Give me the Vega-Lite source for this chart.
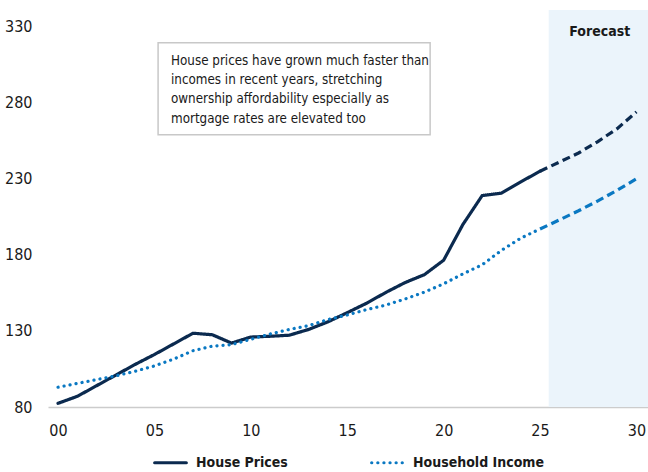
{
  "$schema": "https://vega.github.io/schema/vega-lite/v6.json",
  "width": 600,
  "height": 397,
  "autosize": {"type": "none"},
  "padding": {"left": 48, "top": 10, "right": 0, "bottom": 65},
  "config": {
    "view": {"stroke": null},
    "font": "'DejaVu Sans Condensed', 'Roboto Condensed', Roboto, sans-serif",
    "axis": {"labelFont": "'DejaVu Sans Condensed', 'Roboto Condensed', Roboto, sans-serif", "labelColor": "#1a1a1a"},
    "legend": {"labelFont": "'DejaVu Sans Condensed', 'Roboto Condensed', Roboto, sans-serif"}
  },
  "datasets": {
    "hist": [
      {"year": 0, "value": 82.4, "series": "House Prices"},
      {"year": 1, "value": 87, "series": "House Prices"},
      {"year": 2, "value": 94, "series": "House Prices"},
      {"year": 3, "value": 101, "series": "House Prices"},
      {"year": 4, "value": 108, "series": "House Prices"},
      {"year": 5, "value": 114.5, "series": "House Prices"},
      {"year": 6, "value": 121.5, "series": "House Prices"},
      {"year": 7, "value": 128.5, "series": "House Prices"},
      {"year": 8, "value": 127.5, "series": "House Prices"},
      {"year": 9, "value": 122, "series": "House Prices"},
      {"year": 10, "value": 126, "series": "House Prices"},
      {"year": 11, "value": 126.5, "series": "House Prices"},
      {"year": 12, "value": 127.2, "series": "House Prices"},
      {"year": 13, "value": 131, "series": "House Prices"},
      {"year": 14, "value": 136, "series": "House Prices"},
      {"year": 15, "value": 142, "series": "House Prices"},
      {"year": 16, "value": 148.2, "series": "House Prices"},
      {"year": 17, "value": 155.3, "series": "House Prices"},
      {"year": 18, "value": 161.8, "series": "House Prices"},
      {"year": 19, "value": 167, "series": "House Prices"},
      {"year": 20, "value": 176.5, "series": "House Prices"},
      {"year": 21, "value": 200, "series": "House Prices"},
      {"year": 22, "value": 219, "series": "House Prices"},
      {"year": 23, "value": 220.6, "series": "House Prices"},
      {"year": 24, "value": 228, "series": "House Prices"},
      {"year": 25, "value": 235, "series": "House Prices"},
      {"year": 0, "value": 93, "series": "Household Income"},
      {"year": 1, "value": 95.5, "series": "Household Income"},
      {"year": 2, "value": 98, "series": "Household Income"},
      {"year": 3, "value": 100.5, "series": "Household Income"},
      {"year": 4, "value": 103.5, "series": "Household Income"},
      {"year": 5, "value": 107, "series": "Household Income"},
      {"year": 6, "value": 111.5, "series": "Household Income"},
      {"year": 7, "value": 117, "series": "Household Income"},
      {"year": 8, "value": 120, "series": "Household Income"},
      {"year": 9, "value": 121, "series": "Household Income"},
      {"year": 10, "value": 124.5, "series": "Household Income"},
      {"year": 11, "value": 128, "series": "Household Income"},
      {"year": 12, "value": 131, "series": "Household Income"},
      {"year": 13, "value": 133.5, "series": "Household Income"},
      {"year": 14, "value": 137.5, "series": "Household Income"},
      {"year": 15, "value": 140.5, "series": "Household Income"},
      {"year": 16, "value": 144, "series": "Household Income"},
      {"year": 17, "value": 147, "series": "Household Income"},
      {"year": 18, "value": 151, "series": "Household Income"},
      {"year": 19, "value": 155.5, "series": "Household Income"},
      {"year": 20, "value": 161, "series": "Household Income"},
      {"year": 21, "value": 167.5, "series": "Household Income"},
      {"year": 22, "value": 173.5, "series": "Household Income"},
      {"year": 23, "value": 183, "series": "Household Income"},
      {"year": 24, "value": 191, "series": "Household Income"},
      {"year": 25, "value": 197, "series": "Household Income"}
    ],
    "forecast": [
      {"year": 25, "value": 235, "series": "House Prices"},
      {"year": 26, "value": 241, "series": "House Prices"},
      {"year": 27, "value": 247, "series": "House Prices"},
      {"year": 28, "value": 254.5, "series": "House Prices"},
      {"year": 29, "value": 263, "series": "House Prices"},
      {"year": 30, "value": 274, "series": "House Prices"},
      {"year": 25, "value": 197, "series": "Household Income"},
      {"year": 26, "value": 203, "series": "Household Income"},
      {"year": 27, "value": 209, "series": "Household Income"},
      {"year": 28, "value": 215.5, "series": "Household Income"},
      {"year": 29, "value": 222.5, "series": "Household Income"},
      {"year": 30, "value": 230, "series": "Household Income"}
    ],
    "band": [{"x1": 25.45, "x2": 30.6, "y1": 80, "y2": 341}],
    "box": [{"x1": 5.19, "x2": 19.3, "y1": 259, "y2": 319.5}],
    "note": [{"x": 5.86, "y": 312.2, "label": ["House prices have grown much faster than", "incomes in recent years, stretching", "ownership affordability especially as", "mortgage rates are elevated too"]}],
    "fclabel": [{"x": 28.1, "y": 326.7, "label": "Forecast"}]
  },
  "layer": [
    {
      "data": {"name": "band"},
      "mark": {"type": "rect", "color": "#ebf4fb"},
      "encoding": {
        "x": {"field": "x1", "type": "quantitative", "scale": {"domain": [-0.52, 30.6], "nice": false, "zero": false},
          "axis": {"values": [0, 5, 10, 15, 20, 25, 30], "labelExpr": "datum.value < 10 ? '0' + datum.value : '' + datum.value", "title": null, "grid": false, "ticks": false, "domainColor": "#cccccc", "domainWidth": 1.5, "labelFontSize": 16, "labelPadding": 15, "labelBaseline": "top"}},
        "x2": {"field": "x2"},
        "y": {"field": "y1", "type": "quantitative", "scale": {"domain": [80, 341], "nice": false, "zero": false},
          "axis": {"values": [80, 130, 180, 230, 280, 330], "title": null, "grid": false, "ticks": false, "domain": false, "labelFontSize": 16, "labelPadding": 16}},
        "y2": {"field": "y2"}
      }
    },
    {
      "data": {"name": "box"},
      "mark": {"type": "rect", "fill": "white", "stroke": "#c8c8c8", "strokeWidth": 1.5},
      "encoding": {
        "x": {"field": "x1", "type": "quantitative"},
        "x2": {"field": "x2"},
        "y": {"field": "y1", "type": "quantitative"},
        "y2": {"field": "y2"}
      }
    },
    {
      "data": {"name": "note"},
      "mark": {"type": "text", "align": "left", "baseline": "top", "fontSize": 13.3, "lineHeight": 19.3, "color": "#1a1a1a"},
      "encoding": {
        "x": {"field": "x", "type": "quantitative"},
        "y": {"field": "y", "type": "quantitative"},
        "text": {"field": "label"}
      }
    },
    {
      "data": {"name": "fclabel"},
      "mark": {"type": "text", "align": "center", "baseline": "middle", "fontSize": 14, "fontWeight": "bold", "color": "#1a1a1a"},
      "encoding": {
        "x": {"field": "x", "type": "quantitative"},
        "y": {"field": "y", "type": "quantitative"},
        "text": {"field": "label"}
      }
    },
    {
      "data": {"name": "forecast"},
      "mark": {"type": "line", "strokeWidth": 3.2, "strokeDash": [8, 4.5]},
      "encoding": {
        "x": {"field": "year", "type": "quantitative"},
        "y": {"field": "value", "type": "quantitative"},
        "detail": {"field": "series"},
        "color": {"condition": {"test": "datum.series === 'House Prices'", "value": "#0b2a4f"}, "value": "#0a78c2"}
      }
    },
    {
      "data": {"name": "hist"},
      "mark": {"type": "line", "strokeWidth": 3.2, "strokeCap": "round", "strokeJoin": "round"},
      "encoding": {
        "x": {"field": "year", "type": "quantitative"},
        "y": {"field": "value", "type": "quantitative"},
        "color": {"field": "series", "type": "nominal",
          "scale": {"domain": ["House Prices", "Household Income"], "range": ["#0b2a4f", "#0a78c2"]},
          "legend": {"title": null, "orient": "none", "legendX": 105, "legendY": 435, "direction": "horizontal", "symbolType": "stroke", "symbolSize": 1000, "symbolStrokeWidth": 3.2, "labelFontSize": 14, "labelFontWeight": "bold", "labelColor": "#1a1a1a", "labelOffset": 8, "columnPadding": 77,
            "encode": {"symbols": {"update": {"strokeCap": {"value": "round"}}}}}},
        "strokeDash": {"field": "series", "type": "nominal",
          "scale": {"domain": ["House Prices", "Household Income"], "range": [[1, 0], [0.1, 6]]},
          "legend": {"title": null, "orient": "none", "legendX": 105, "legendY": 435, "direction": "horizontal", "symbolType": "stroke", "symbolSize": 1000, "symbolStrokeWidth": 3.2, "labelFontSize": 14, "labelFontWeight": "bold", "labelColor": "#1a1a1a", "labelOffset": 8, "columnPadding": 77,
            "encode": {"symbols": {"update": {"strokeCap": {"value": "round"}}}}}}
      }
    }
  ]
}
